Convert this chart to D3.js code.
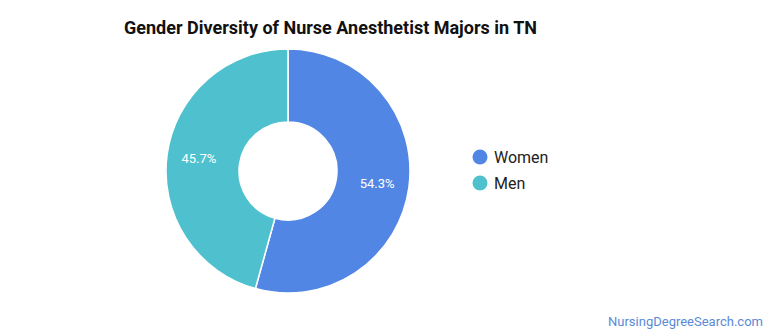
<!DOCTYPE html>
<html>
<head>
<meta charset="utf-8">
<script src="https://cdn.jsdelivr.net/npm/d3@7"></script>
<style>
  html, body { margin: 0; padding: 0; background: #fff; }
  svg { display: block; font-family: Roboto, "Noto Sans", sans-serif; }
</style>
</head>
<body>
<svg id="chart" width="770" height="335"></svg>
<script>
// Share of nurse anesthetist majors in TN by gender
const categories = ["Women", "Men"];
const shares = [54.3, 45.7];
const colors = ["#5286e4", "#4fc1ce"];

const svg = d3.select("#chart");
const cx = 288, cy = 171, outerR = 122, innerR = 49;

svg.append("text")
  .attr("x", 124).attr("y", 34)
  .attr("font-size", 18).attr("font-weight", "bold").attr("fill", "#111")
  .text("Gender Diversity of Nurse Anesthetist Majors in TN");

const data = categories.map((c, i) => ({ name: c, value: shares[i], color: colors[i] }));
const pie = d3.pie().sort(null).value(d => d.value);
const arc = d3.arc().innerRadius(innerR).outerRadius(outerR);
const labelArc = d3.arc().innerRadius(90).outerRadius(90);

const g = svg.append("g").attr("transform", `translate(${cx},${cy})`);
const arcs = pie(data);

g.selectAll("path").data(arcs).join("path")
  .attr("d", arc)
  .attr("fill", d => d.data.color)
  .attr("stroke", "#fff").attr("stroke-width", 1.5);

g.selectAll("text.pct").data(arcs).join("text")
  .attr("class", "pct")
  .attr("transform", d => `translate(${labelArc.centroid(d)})`)
  .attr("text-anchor", "middle").attr("dy", "0.35em")
  .attr("font-size", 13).attr("fill", "#fff")
  .text(d => d.data.value.toFixed(1) + "%");

const legend = svg.append("g").attr("transform", "translate(480,157)");
const items = legend.selectAll("g").data(data).join("g")
  .attr("transform", (d, i) => `translate(0,${i * 26})`);
items.append("circle").attr("r", 7.5).attr("fill", d => d.color);
items.append("text").attr("x", 14).attr("dy", "0.35em")
  .attr("font-size", 16).attr("fill", "#222")
  .text(d => d.name);

svg.append("text")
  .attr("x", 763).attr("y", 326).attr("text-anchor", "end")
  .attr("font-size", 13).attr("fill", "#5a8ad6")
  .text("NursingDegreeSearch.com");
</script>
</body>
</html>
